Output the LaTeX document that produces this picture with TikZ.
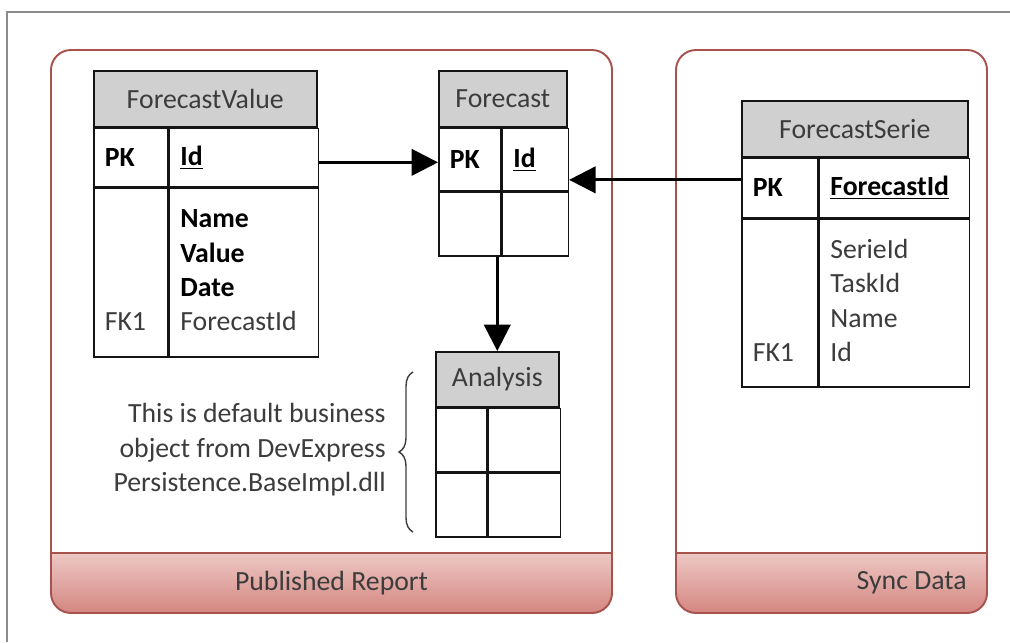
\documentclass[tikz,border=0pt]{standalone}
\usepackage{fontspec}
\setmainfont{Carlito}
\usetikzlibrary{arrows.meta,decorations.pathreplacing}
\tikzset{
  diagram-font/.style={font=\fontsize{15.8}{19.6}\selectfont},
  table-head/.style={
    draw=tableline,
    line width=0.9pt,
    fill=headgray,
    text=textgray,
    diagram-font,
    anchor=north west,
    inner sep=0pt
  },
  table-cell/.style={
    draw=tableline,
    line width=0.9pt,
    fill=white,
    text=textgray,
    diagram-font,
    anchor=north west,
    inner xsep=0.22cm,
    inner ysep=0pt,
    align=left
  },
  key-cell/.style={table-cell, text=black},
  conn-arrow/.style={draw=black, line width=1.6pt, -{Triangle[length=15pt,width=15pt]}},
  group-line/.style={draw=groupred, line width=1.1pt},
  group-label/.style={diagram-font, text=textgray, inner sep=0pt},
  note-text/.style={diagram-font, text=textgray, align=right, inner sep=0pt},
  note-brace/.style={draw=textgray, line width=0.8pt, decorate, decoration={brace, amplitude=0.28cm}},
  page-line/.style={draw=pagegray, line width=1.1pt}
}
\definecolor{headgray}{RGB}{208,208,208}
\definecolor{tableline}{RGB}{20,20,20}
\definecolor{textgray}{RGB}{60,60,60}
\definecolor{groupred}{RGB}{168,82,78}
\definecolor{bandtop}{RGB}{237,200,196}
\definecolor{bandbottom}{RGB}{212,134,128}
\definecolor{pagegray}{RGB}{140,140,140}
\newcommand{\pageframe}{
  \useasboundingbox (0,0) rectangle (1010,642);
  \draw[page-line] (7,642) -- (7,12) -- (1010,12);
}
% group box with shaded label band: #1 = left x, #2 = right x
\newcommand{\groupbox}[2]{
  \begin{scope}
    \clip[rounded corners=0.4cm] (#1,50) rectangle (#2,613);
    \shade[top color=bandtop, bottom color=bandbottom] (#1,553) rectangle (#2,613);
  \end{scope}
  \draw[group-line] (#1,553) -- (#2,553);
  \draw[group-line, rounded corners=0.4cm] (#1,50) rectangle (#2,613);
}

\begin{document}
\begin{tikzpicture}[x=0.02cm, y=-0.02cm]
  \pageframe

  % Groups
  \groupbox{51}{612}
  \groupbox{676}{987}
  \node[group-label] (reportLabel) at (331.5,583) {Published Report};
  \node[group-label, anchor=east] (syncLabel) at (967,583) {Sync Data};

  % ForecastValue table
  \node[table-head, minimum width=4.46cm, minimum height=1.12cm] (fvHead) at (93,70) {ForecastValue};
  \node[key-cell, minimum width=1.48cm, minimum height=1.16cm, text width=1.04cm] (fvPK) at (fvHead.south west) {\textbf{PK}};
  \node[key-cell, minimum width=2.98cm, minimum height=1.16cm, text width=2.54cm] (fvId) at (fvPK.north east) {\underline{\textbf{Id}}};
  \node[table-cell, minimum width=1.48cm, minimum height=3.38cm, text width=1.04cm] (fvKeys) at (fvPK.south west) {\strut\\\strut\\\strut\\\strut FK1};
  \node[table-cell, minimum width=2.98cm, minimum height=3.38cm, text width=2.54cm] (fvFields) at (fvKeys.north east)
    {\strut\textbf{\color{black}Name}\\\textbf{\color{black}Value}\\\textbf{\color{black}Date}\\ForecastId\strut};

  % Forecast table
  \node[table-head, minimum width=2.56cm, minimum height=1.12cm] (fcHead) at (438,70) {Forecast};
  \node[key-cell, minimum width=1.24cm, minimum height=1.24cm, text width=0.80cm] (fcPK) at (fcHead.south west) {\textbf{PK}};
  \node[key-cell, minimum width=1.32cm, minimum height=1.24cm, text width=0.88cm] (fcId) at (fcPK.north east) {\underline{\textbf{Id}}};
  \node[table-cell, minimum width=1.24cm, minimum height=1.28cm] (fcKeys) at (fcPK.south west) {};
  \node[table-cell, minimum width=1.32cm, minimum height=1.28cm] (fcFields) at (fcKeys.north east) {};

  % ForecastSerie table
  \node[table-head, minimum width=4.52cm, minimum height=1.12cm] (fsHead) at (741,100) {ForecastSerie};
  \node[key-cell, minimum width=1.52cm, minimum height=1.18cm, text width=1.08cm] (fsPK) at (fsHead.south west) {\textbf{PK}};
  \node[key-cell, minimum width=3.00cm, minimum height=1.18cm, text width=2.56cm] (fsId) at (fsPK.north east) {\underline{\textbf{ForecastId}}};
  \node[table-cell, minimum width=1.52cm, minimum height=3.36cm, text width=1.08cm] (fsKeys) at (fsPK.south west) {\strut\\\strut\\\strut\\\strut FK1};
  \node[table-cell, minimum width=3.00cm, minimum height=3.36cm, text width=2.56cm] (fsFields) at (fsKeys.north east)
    {\strut SerieId\\TaskId\\Name\\Id\strut};

  % Analysis table
  \node[table-head, minimum width=2.46cm, minimum height=1.10cm] (anHead) at (435,351) {Analysis};
  \node[table-cell, minimum width=1.02cm, minimum height=1.26cm] (anKeyA) at (anHead.south west) {};
  \node[table-cell, minimum width=1.44cm, minimum height=1.26cm] (anFieldA) at (anKeyA.north east) {};
  \node[table-cell, minimum width=1.02cm, minimum height=1.28cm] (anKeyB) at (anKeyA.south west) {};
  \node[table-cell, minimum width=1.44cm, minimum height=1.28cm] (anFieldB) at (anKeyB.north east) {};

  % Relations
  \coordinate (fvOut) at ([yshift=-0.1cm]fvId.east);
  \coordinate (fsOut) at ([yshift=0.16cm]fsPK.west);
  \draw[conn-arrow] (fvOut) -- (fvOut -| fcPK.west);
  \draw[conn-arrow] (fsOut) -- (fsOut -| fcId.east);
  \draw[conn-arrow] (anHead.north |- fcKeys.south) -- (anHead.north);

  % Note on Analysis
  \coordinate (braceTop) at (413,372);
  \coordinate (braceBottom) at (413,532);
  \draw[note-brace] (braceBottom) -- (braceTop);
  \node[note-text, anchor=east] (noteText) at (386,450)
    {This is default business\\object from DevExpress\\Persistence.BaseImpl.dll};

\end{tikzpicture}
\end{document}
